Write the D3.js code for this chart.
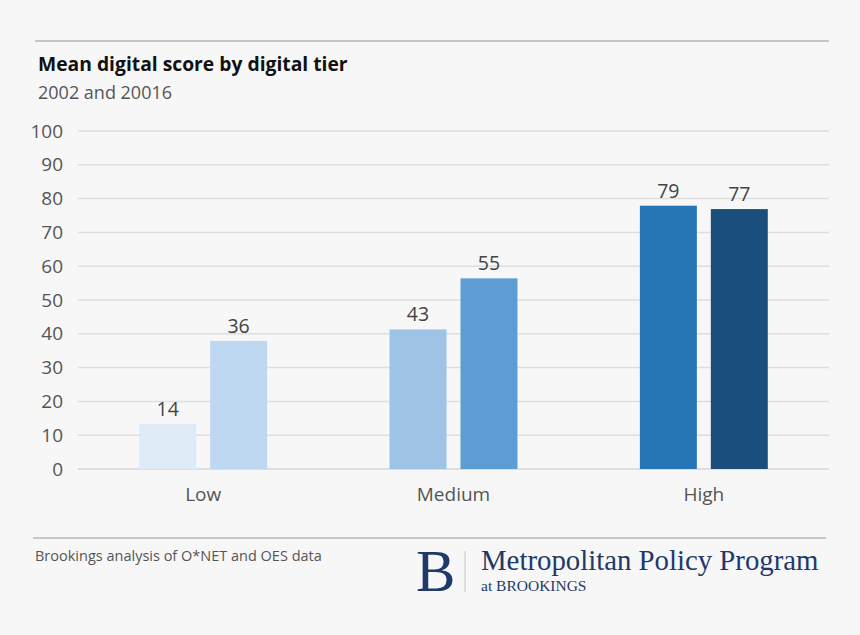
<!DOCTYPE html>
<html>
<head>
<meta charset="utf-8">
<script src="https://cdn.jsdelivr.net/npm/d3@7"></script>
<style>
  body { margin: 0; background: #f7f7f7; }
  svg { display: block; font-family: "Open Sans", Lato, sans-serif; }
</style>
</head>
<body>
<svg id="chart" width="860" height="635"></svg>
<script>
// chart data
const tiers = ["Low", "Medium", "High"];
const years = ["2002", "2016"];
const values2002 = [13.3, 41.3, 77.9];   // bar heights as drawn
const values2016 = [37.9, 56.4, 76.9];
const labels2002 = [14, 43, 79];         // printed labels
const labels2016 = [36, 55, 77];
const yTicks = [0, 10, 20, 30, 40, 50, 60, 70, 80, 90, 100];
const barColors = [
    ["#deeaf6", "#bfd8f1"],
    ["#9fc2e7", "#5e9dd3"],
    ["#2675b7", "#1b4f7b"]
];

const W = 860, H = 635;
const plot = {left: 78, right: 829, top: 131, bottom: 469};

const svg = d3.select("#chart");
svg.append("rect").attr("width", W).attr("height", H).attr("fill", "#f7f7f7");

// header
svg.append("line")
    .attr("x1", 35).attr("x2", 829).attr("y1", 41).attr("y2", 41)
    .attr("stroke", "#b4b4b4").attr("stroke-width", 1.5);
svg.append("text")
    .attr("x", 38).attr("y", 71)
    .attr("font-size", 19.3).attr("font-weight", 700).attr("fill", "#111")
    .text("Mean digital score by digital tier");
svg.append("text")
    .attr("x", 38).attr("y", 99)
    .attr("font-size", 18).attr("fill", "#555")
    .text("2002 and 20016");

// scales
const x = d3.scaleBand()
    .domain(tiers)
    .range([plot.left, plot.right])
    .paddingInner(0.489)
    .paddingOuter(0.2445);
const xInner = d3.scaleBand()
    .domain(years)
    .range([0, x.bandwidth()])
    .paddingInner(0.197);
const y = d3.scaleLinear().domain([0, 100]).range([plot.bottom, plot.top]);

// gridlines + y labels
const grid = svg.append("g");
grid.selectAll("line")
    .data(yTicks)
    .join("line")
    .attr("x1", plot.left).attr("x2", plot.right)
    .attr("y1", d => y(d)).attr("y2", d => y(d))
    .attr("stroke", d => d === 0 ? "#d6d6d6" : "#dedede")
    .attr("stroke-width", 1.5);
grid.selectAll("text")
    .data(yTicks)
    .join("text")
    .attr("x", 63).attr("y", d => y(d))
    .attr("dy", "0.35em")
    .attr("text-anchor", "end")
    .attr("font-size", 19).attr("fill", "#555")
    .text(d => d);

// bars
const rows = tiers.map((t, i) => ({
    tier: t,
    bars: [
        {year: years[0], value: values2002[i], label: labels2002[i], color: barColors[i][0]},
        {year: years[1], value: values2016[i], label: labels2016[i], color: barColors[i][1]}
    ]
}));

const groups = svg.append("g").selectAll("g")
    .data(rows)
    .join("g")
    .attr("transform", d => `translate(${x(d.tier)},0)`);

groups.selectAll("rect")
    .data(d => d.bars)
    .join("rect")
    .attr("x", d => xInner(d.year))
    .attr("y", d => y(d.value))
    .attr("width", xInner.bandwidth())
    .attr("height", d => y(0) - y(d.value))
    .attr("fill", d => d.color);

groups.selectAll("text.val")
    .data(d => d.bars)
    .join("text")
    .classed("val", true)
    .attr("x", d => xInner(d.year) + xInner.bandwidth() / 2)
    .attr("y", d => y(d.value) - 8)
    .attr("text-anchor", "middle")
    .attr("font-size", 19.5).attr("fill", "#444")
    .text(d => d.label);

// category labels
svg.append("g").selectAll("text")
    .data(tiers)
    .join("text")
    .attr("x", d => x(d) + x.bandwidth() / 2)
    .attr("y", 501)
    .attr("text-anchor", "middle")
    .attr("font-size", 19).attr("fill", "#555")
    .text(d => d);

// footer
svg.append("line")
    .attr("x1", 33).attr("x2", 826).attr("y1", 538).attr("y2", 538)
    .attr("stroke", "#9a9a9a").attr("stroke-width", 1.2);
svg.append("text")
    .attr("x", 35).attr("y", 561)
    .attr("font-size", 14.5).attr("fill", "#555")
    .text("Brookings analysis of O*NET and OES data");

const logo = svg.append("g")
    .attr("font-family", "'Liberation Serif', 'DejaVu Serif', serif")
    .attr("fill", "#1d3a6a");
logo.append("text")
    .attr("x", 416).attr("y", 591)
    .attr("font-size", 59)
    .text("B");
logo.append("line")
    .attr("x1", 465).attr("x2", 465).attr("y1", 551).attr("y2", 592)
    .attr("stroke", "#c8c8c8").attr("stroke-width", 1);
logo.append("text")
    .attr("x", 481).attr("y", 570)
    .attr("font-size", 28.8)
    .text("Metropolitan Policy Program");
logo.append("text")
    .attr("x", 481).attr("y", 591)
    .attr("font-size", 15.5)
    .text("at BROOKINGS");
</script>
</body>
</html>
